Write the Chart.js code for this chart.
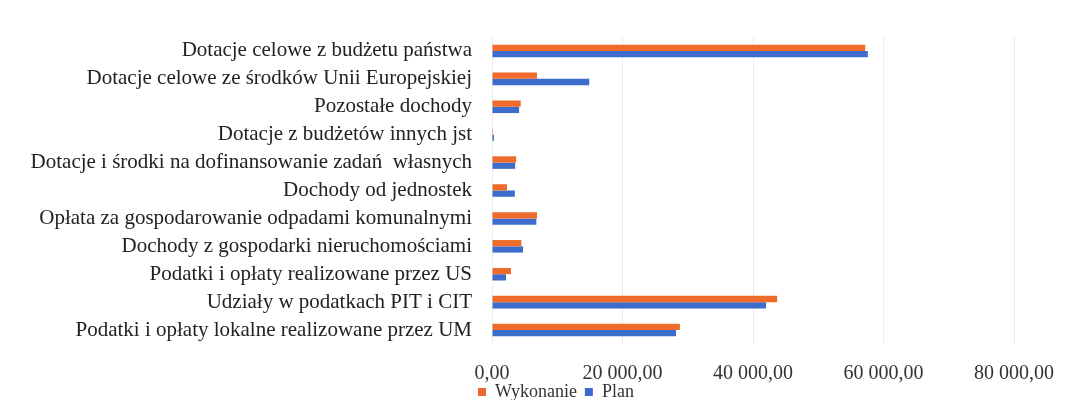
<!DOCTYPE html>
<html>
<head>
<meta charset="utf-8">
<script src="https://cdn.jsdelivr.net/npm/chart.js@4"></script>
<style>
  html, body { margin: 0; padding: 0; background: #fff; }
  #wrap { width: 1089px; height: 400px; }
</style>
</head>
<body>
<div id="wrap"><canvas id="dochody"></canvas></div>
<script>
const categories = [
  'Dotacje celowe z budżetu państwa',
  'Dotacje celowe ze środków Unii Europejskiej',
  'Pozostałe dochody',
  'Dotacje z budżetów innych jst',
  'Dotacje i środki na dofinansowanie zadań  własnych',
  'Dochody od jednostek',
  'Opłata za gospodarowanie odpadami komunalnymi',
  'Dochody z gospodarki nieruchomościami',
  'Podatki i opłaty realizowane przez US',
  'Udziały w podatkach PIT i CIT',
  'Podatki i opłaty lokalne realizowane przez UM'
];
const wykonanie = [57200, 6900, 4400, 150, 3700, 2300, 6900, 4500, 2900, 43700, 28800];
const plan      = [57600, 14900, 4150, 300, 3550, 3500, 6800, 4750, 2150, 42000, 28200];
const xTicks = [0, 20000, 40000, 60000, 80000];

const serif = 'Liberation Serif';

function fmt(v) {
  const s = Math.round(v).toString().replace(/\B(?=(\d{3})+(?!\d))/g, ' ');
  return s + ',00';
}

// legend a bit left of the plot, and let the x labels hang below their box
const tweakLayout = {
  id: 'tweakLayout',
  afterLayout(chart) {
    const lg = chart.legend;
    const w = lg.right - lg.left;
    lg.left = chart.chartArea.left - 22;
    lg.right = lg.left + w;
    chart.scales.x.bottom += 20;
  }
};

const ctx = document.getElementById('dochody').getContext('2d');

new Chart(ctx, {
  type: 'bar',
  data: {
    labels: categories,
    datasets: [{
      label: 'Wykonanie',
      data: wykonanie,
      backgroundColor: '#EF6B2B',
      categoryPercentage: 0.45,
      barPercentage: 1.0
    }, {
      label: 'Plan',
      data: plan,
      backgroundColor: '#3D6DCC',
      categoryPercentage: 0.45,
      barPercentage: 1.0
    }]
  },
  options: {
    indexAxis: 'y',
    responsive: true,
    maintainAspectRatio: false,
    animation: false,
    layout: {
      padding: { top: 37, left: 0, right: 75, bottom: -11 }
    },
    scales: {
      x: {
        min: 0,
        max: 80000,
        afterBuildTicks: function (scale) {
          scale.ticks = xTicks.map(v => ({ value: v }));
        },
        afterFit: function (scale) { scale.height = 31; },
        grid: { color: '#ececec', drawTicks: false },
        border: { display: false },
        ticks: {
          padding: 20,
          color: '#333',
          font: { family: serif, size: 20, lineHeight: 1 },
          callback: v => fmt(v)
        }
      },
      y: {
        grid: { display: false },
        border: { display: false },
        afterFit: function (scale) { scale.width = 492; },
        ticks: {
          padding: 12,
          color: '#222',
          autoSkip: false,
          font: { family: serif, size: 21 }
        }
      }
    },
    plugins: {
      legend: {
        position: 'bottom',
        align: 'start',
        fullSize: false,
        labels: {
          boxWidth: 8,
          boxHeight: 8,
          padding: 8,
          color: '#333',
          font: { family: serif, size: 18, lineHeight: 1 }
        }
      },
      tooltip: { enabled: false }
    }
  },
  plugins: [tweakLayout]
});
</script>
</body>
</html>
